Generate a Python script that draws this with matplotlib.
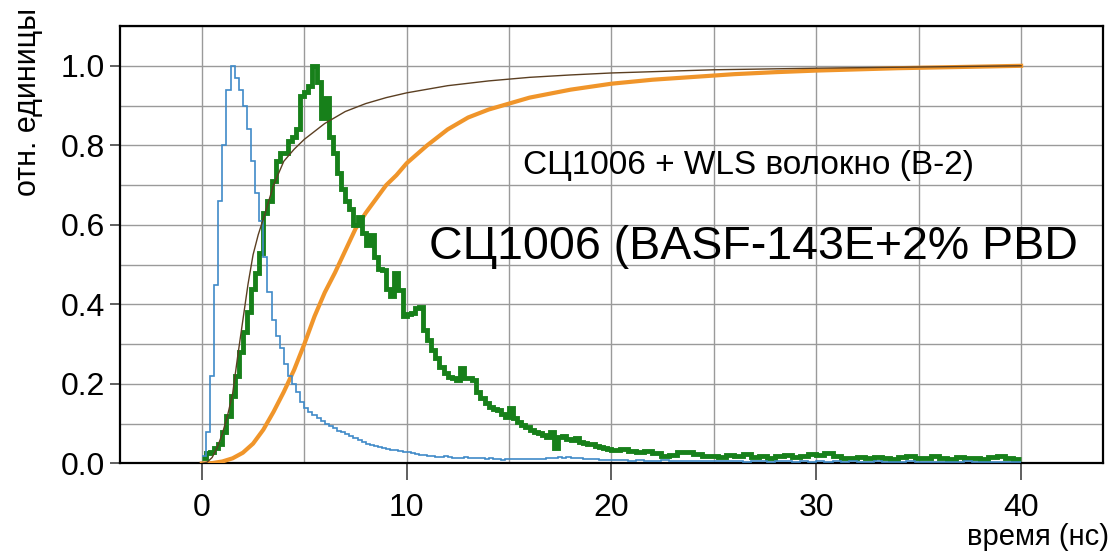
import numpy as np
import matplotlib
matplotlib.use("Agg")
import matplotlib.pyplot as plt
from matplotlib import font_manager
from matplotlib.ticker import MultipleLocator

# --- data ---
bin_fine = 0.2     # ns, bins 0..20
bin_coarse = 0.4   # ns, bins 20..40

green_fine = [0.015, 0.026, 0.030, 0.040, 0.050, 0.080, 0.120, 0.170, 0.220, 0.280,
              0.330, 0.380, 0.440, 0.480, 0.530, 0.630, 0.660, 0.710, 0.760, 0.780,
              0.780, 0.810, 0.820, 0.840, 0.925, 0.935, 0.950, 1.000, 0.960, 0.870,
              0.920, 0.820, 0.780, 0.730, 0.690, 0.660, 0.640, 0.600, 0.620, 0.580,
              0.550, 0.575, 0.520, 0.490, 0.486, 0.440, 0.420, 0.478, 0.436, 0.370,
              0.375, 0.378, 0.390, 0.394, 0.335, 0.310, 0.285, 0.265, 0.243, 0.227,
              0.218, 0.215, 0.210, 0.240, 0.215, 0.215, 0.210, 0.180, 0.165, 0.152,
              0.143, 0.138, 0.134, 0.125, 0.118, 0.140, 0.115, 0.105, 0.098, 0.092,
              0.085, 0.080, 0.076, 0.072, 0.067, 0.080, 0.040, 0.067, 0.070, 0.062,
              0.060, 0.063, 0.055, 0.052, 0.050, 0.048, 0.045, 0.042, 0.038, 0.036]
green_coarse = [0.034, 0.036, 0.032, 0.030, 0.031, 0.026, 0.020, 0.022, 0.028, 0.030,
                0.024, 0.018, 0.020, 0.017, 0.022, 0.019, 0.023, 0.016, 0.020, 0.014,
                0.018, 0.022, 0.017, 0.020, 0.024, 0.021, 0.026, 0.018, 0.015, 0.013,
                0.016, 0.014, 0.017, 0.015, 0.012, 0.016, 0.019, 0.014, 0.013, 0.018,
                0.015, 0.012, 0.016, 0.013, 0.015, 0.012, 0.016, 0.020, 0.014, 0.012]

blue_fine = [0.020, 0.080, 0.220, 0.450, 0.660, 0.800, 0.940, 1.000, 0.970, 0.940,
             0.900, 0.840, 0.760, 0.680, 0.610, 0.520, 0.430, 0.360, 0.320, 0.290,
             0.250, 0.220, 0.200, 0.180, 0.155, 0.140, 0.130, 0.122, 0.115, 0.108,
             0.100, 0.095, 0.088, 0.082, 0.078, 0.073, 0.068, 0.064, 0.060, 0.055,
             0.050, 0.046, 0.043, 0.041, 0.039, 0.036, 0.034, 0.033, 0.031, 0.030,
             0.028, 0.026, 0.024, 0.022, 0.021, 0.020, 0.018, 0.017, 0.016, 0.018,
             0.016, 0.015, 0.015, 0.014, 0.016, 0.015, 0.014, 0.015, 0.013, 0.012,
             0.013, 0.011, 0.010, 0.009, 0.010, 0.011, 0.010, 0.012, 0.010, 0.011,
             0.010, 0.012, 0.011, 0.012, 0.014, 0.013, 0.015, 0.016, 0.015, 0.016,
             0.014, 0.015, 0.013, 0.012, 0.011, 0.012, 0.010, 0.009, 0.008, 0.009]
blue_coarse = [0.008, 0.009, 0.007, 0.008, 0.006, 0.007, 0.008, 0.006, 0.007, 0.006,
               0.005, 0.006, 0.007, 0.005, 0.006, 0.005, 0.004, 0.006, 0.005, 0.004,
               0.005, 0.006, 0.004, 0.005, 0.004, 0.005, 0.004, 0.006, 0.004, 0.005,
               0.004, 0.003, 0.005, 0.004, 0.004, 0.003, 0.005, 0.004, 0.003, 0.004,
               0.004, 0.003, 0.004, 0.005, 0.003, 0.004, 0.003, 0.004, 0.003, 0.004]

brown_t = [0, 0.25, 0.5, 0.75, 1.0, 1.25, 1.5, 1.75, 2.0, 2.25, 2.5, 2.75, 3.0, 3.5, 4.0,
           4.5, 5.0, 6.0, 7.0, 8.0, 9.0, 10, 12, 14, 16, 18, 20, 25, 30, 35, 40]
brown_y = [0.0, 0.003, 0.015, 0.04, 0.075, 0.12, 0.175, 0.27, 0.36, 0.45, 0.525, 0.575,
           0.615, 0.70, 0.76, 0.79, 0.815, 0.855, 0.885, 0.905, 0.92, 0.932, 0.95, 0.962,
           0.971, 0.977, 0.982, 0.99, 0.994, 0.997, 1.0]

orange_t = [0, 0.5, 1.0, 1.5, 2.0, 2.5, 3.0, 3.5, 4.0, 4.5, 5.0, 5.5, 6.0, 6.5, 7.0, 7.5,
            8.0, 8.5, 9.0, 9.5, 10, 11, 12, 13, 14, 15, 16, 18, 20, 22, 24, 26, 28, 30, 34, 40]
orange_y = [0.0, 0.001, 0.005, 0.013, 0.027, 0.05, 0.085, 0.13, 0.18, 0.235, 0.30, 0.37,
            0.43, 0.48, 0.535, 0.59, 0.63, 0.665, 0.70, 0.725, 0.755, 0.80, 0.84, 0.87,
            0.89, 0.905, 0.92, 0.94, 0.955, 0.965, 0.972, 0.979, 0.984, 0.988, 0.994, 1.0]

xticks = [0, 10, 20, 30, 40]
yticks = [0.0, 0.2, 0.4, 0.6, 0.8, 1.0]

# --- fonts ---
names = {f.name for f in font_manager.fontManager.ttflist}
font = "Liberation Sans Narrow" if "Liberation Sans Narrow" in names else "Liberation Sans"
plt.rcParams["font.family"] = [font, "DejaVu Sans"]


def edges(n_fine, n_coarse):
    e_fine = np.arange(n_fine + 1) * bin_fine
    e_coarse = e_fine[-1] + np.arange(1, n_coarse + 1) * bin_coarse
    return np.concatenate([e_fine, e_coarse])


fig = plt.figure(figsize=(11.18, 5.54), dpi=100)
ax = fig.add_axes([0.1073, 0.1634, 0.8793, 0.7896])

ax.plot(orange_t, orange_y, color="#f0952a", lw=3.0, zorder=3)
ax.stairs(green_fine + green_coarse, edges(len(green_fine), len(green_coarse)),
          baseline=None, color="#17801a", lw=3.5, zorder=4)
ax.stairs(blue_fine + blue_coarse, edges(len(blue_fine), len(blue_coarse)),
          baseline=None, color="#3f8ac8", lw=1.2, zorder=5)
ax.plot(brown_t, brown_y, color="#5b3f22", lw=1.0, zorder=6)

ax.set_xlim(-4, 44)
ax.set_ylim(0, 1.1)
ax.set_xticks(xticks)
ax.set_yticks(yticks)
ax.set_yticklabels([f"{v:.1f}" for v in yticks])
ax.xaxis.set_minor_locator(MultipleLocator(5))
ax.yaxis.set_minor_locator(MultipleLocator(0.1))
ax.grid(True, which="both", color="#9a9a9a", lw=1.0)
ax.set_axisbelow(True)
ax.tick_params(which="minor", length=0)
ax.tick_params(axis="x", which="major", length=12, width=1.2, color="#444444",
               labelsize=23, pad=9)
ax.tick_params(axis="y", which="major", length=7, width=1.2, color="#444444",
               labelsize=23, pad=4)
for s in ax.spines.values():
    s.set_linewidth(1.6)
    s.set_color("black")

fig.text(0.025, 0.985, "отн. единицы", rotation=90, ha="center", va="top", fontsize=22)
fig.text(0.992, 0.005, "время (нс)", ha="right", va="bottom", fontsize=21)

ax.text(15.7, 0.75, "СЦ1006 + WLS волокно (В-2)", fontsize=24, va="center", ha="left")
ax.text(11.1, 0.545, "СЦ1006 (BASF-143E+2% PBD", fontsize=33.5, va="center", ha="left")

fig.savefig("out.png", dpi=100)
